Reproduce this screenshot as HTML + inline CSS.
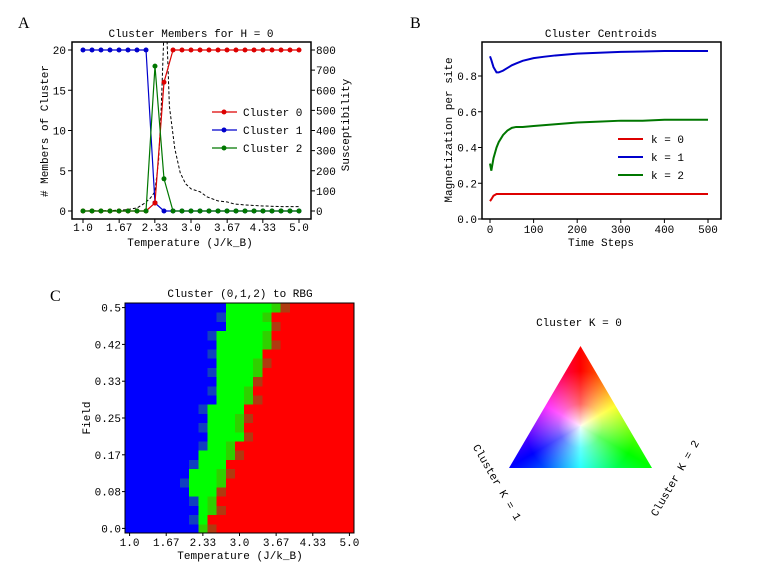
<!DOCTYPE html>
<html><head><meta charset="utf-8">
<style>
html,body{margin:0;padding:0;background:#fff;}
svg text{font-family:"Liberation Mono","DejaVu Sans Mono",monospace;font-size:11px;fill:#000;}
svg text.letter{font-family:"Liberation Serif",serif;font-size:16px;}
.tri{position:absolute;left:509px;top:346px;width:143px;height:122px;clip-path:polygon(50% 0,100% 100%,0 100%);}
</style></head>
<body>
<div style="position:relative;width:758px;height:569px;overflow:hidden">
<svg id="s" width="758" height="569" style="position:absolute;left:0;top:0"></svg>
<div class="tri" style="background:conic-gradient(from 0deg at 50% 65.6%, #ff0000 0deg, #ffff00 60deg, #00ff00 120deg, #00ffff 180deg, #0000ff 240deg, #ff00ff 300deg, #ff0000 360deg);"></div>
<div class="tri" style="background:radial-gradient(circle at 50% 65.6%, rgba(255,255,255,0.95) 0px, rgba(255,255,255,0.4) 22px, rgba(255,255,255,0) 55px);"></div>
</div>
<script>
// Panel A data
const tempA=[1,1.167,1.333,1.5,1.667,1.833,2,2.167,2.333,2.5,2.667,2.833,3,3.167,3.333,3.5,3.667,3.833,4,4.167,4.333,4.5,4.667,4.833,5];
const cluster0=[0,0,0,0,0,0,0,0,1,16,20,20,20,20,20,20,20,20,20,20,20,20,20,20,20];
const cluster1=[20,20,20,20,20,20,20,20,1,0,0,0,0,0,0,0,0,0,0,0,0,0,0,0,0];
const cluster2=[0,0,0,0,0,0,0,0,18,4,0,0,0,0,0,0,0,0,0,0,0,0,0,0,0];
const chiT=[1,1.5,1.8,2.0,2.15,2.25,2.33,2.4,2.45,2.5,2.55,2.6,2.7,2.8,2.9,3.0,3.17,3.3,3.5,3.67,3.8,4.0,4.33,4.67,5];
const chi=[0,2,6,15,40,65,95,250,520,900,900,520,310,190,135,110,95,70,50,45,35,30,25,22,22];
const xTicksA=[1.0,1.67,2.33,3.0,3.67,4.33,5.0];
const xTickLabA=["1.0","1.67","2.33","3.0","3.67","4.33","5.0"];
const yTicksA=[0,5,10,15,20];
const yTicksChi=[0,100,200,300,400,500,600,700,800];
// Panel B data
const stepsB=[0,3,8,15,20,30,40,50,60,75,100,125,150,200,250,300,350,400,450,500];
const k0=[0.10,0.11,0.13,0.14,0.14,0.14,0.14,0.14,0.14,0.14,0.14,0.14,0.14,0.14,0.14,0.14,0.14,0.14,0.14,0.14];
const k1=[0.91,0.89,0.85,0.82,0.82,0.83,0.845,0.86,0.87,0.885,0.90,0.908,0.915,0.925,0.93,0.935,0.937,0.94,0.94,0.94];
const k2=[0.31,0.27,0.34,0.40,0.43,0.47,0.495,0.51,0.515,0.515,0.52,0.525,0.53,0.54,0.545,0.55,0.55,0.555,0.555,0.555];
const xTicksB=[0,100,200,300,400,500];
const yTicksB=[0,0.2,0.4,0.6,0.8];
// Panel C data
const greenStart=[8,8,8,8,7,7,7,8,8,9,9,9,9,9,10,10,10,10,10,10,10,10,11,11,11];
const redStart=[9,9,10,10,10,11,11,11,12,12,13,13,13,13,14,14,14,15,15,15,16,16,16,16,17];
const yTickLabC=["0.0","0.08","0.17","0.25","0.33","0.42","0.5"];
const xTickLabC=["1.0","1.67","2.33","3.0","3.67","4.33","5.0"];

const S=document.getElementById('s');
const NS='http://www.w3.org/2000/svg';
function mk(tag,attrs,parent){const e=document.createElementNS(NS,tag);for(const k in attrs)e.setAttribute(k,attrs[k]);(parent||S).appendChild(e);return e;}
function txt(x,y,s,anchor,extra){const e=mk('text',Object.assign({x:x,y:y,'text-anchor':anchor||'start'},extra||{}));e.textContent=s;return e;}

// ---------- Panel A ----------
const A={l:72,r:311,t:42,b:219};
const ax=t=>83+(t-1)/4*216;
const ayL=v=>211-v/20*161;
const ayR=v=>211-v/800*161;
let e;
e=txt(18,28,'A','start',{'class':'letter'});

e=txt(191,37,'Cluster Members for H = 0','middle');

const gA=mk('g',{});

const clipA=mk('clipPath',{id:'ca'});mk('rect',{x:A.l,y:A.t,width:A.r-A.l,height:A.b-A.t},clipA);
e=mk('polyline',{points:chiT.map((t,i)=>ax(t)+','+ayR(chi[i])).join(' '),fill:'none',stroke:'#000','stroke-width':1,'stroke-dasharray':'3,2','clip-path':'url(#ca)'},gA);

function seriesA(vals,col,name){
  const l=mk('polyline',{points:tempA.map((t,i)=>ax(t)+','+ayL(vals[i])).join(' '),fill:'none',stroke:col,'stroke-width':1.2},gA);
  
  tempA.forEach((t,i)=>{const c=mk('circle',{cx:ax(t),cy:ayL(vals[i]),r:2.5,fill:col},gA);
  });
}
seriesA(cluster1,'#0000cc','cluster-1');
seriesA(cluster0,'#dd0000','cluster-0');
seriesA(cluster2,'#007700','cluster-2');
e=mk('rect',{x:A.l,y:A.t,width:A.r-A.l,height:A.b-A.t,fill:'none',stroke:'#000','stroke-width':1.5});

xTicksA.forEach((t,i)=>{mk('line',{x1:ax(t),x2:ax(t),y1:A.b,y2:A.b+4,stroke:'#000'});
  const q=txt(ax(t),231,xTickLabA[i],'middle');});
yTicksA.forEach(v=>{mk('line',{x1:A.l-4,x2:A.l,y1:ayL(v),y2:ayL(v),stroke:'#000'});
  const q=txt(A.l-6,ayL(v)+4,String(v),'end');});
yTicksChi.forEach(v=>{mk('line',{x1:A.r,x2:A.r+4,y1:ayR(v),y2:ayR(v),stroke:'#000'});
  const q=txt(A.r+5,ayR(v)+4,String(v),'start');});
e=txt(190,246,'Temperature (J/k_B)','middle');

e=txt(0,0,'# Members of Cluster','middle',{transform:'translate(48,131) rotate(-90)'});

e=txt(0,0,'Susceptibility','middle',{transform:'translate(349,125) rotate(-90)'});

[['Cluster 0','#dd0000',112],['Cluster 1','#0000cc',130],['Cluster 2','#007700',148]].forEach(L=>{
  const g=mk('g',{});
  mk('line',{x1:212,x2:237,y1:L[2],y2:L[2],stroke:L[1],'stroke-width':1.2},g);
  mk('circle',{cx:224,cy:L[2],r:2.5,fill:L[1]},g);
  const q=mk('text',{x:243,y:L[2]+4},g);q.textContent=L[0];});

// ---------- Panel B ----------
const B={l:482,r:721,t:42,b:219};
const bx=s=>490+s/500*218;
const by=v=>219-v/0.8*143;
e=txt(410,28,'B','start',{'class':'letter'});

e=txt(601,37,'Cluster Centroids','middle');

[[k0,'#dd0000','k-0'],[k1,'#0000cc','k-1'],[k2,'#007700','k-2']].forEach(sr=>{
  const l=mk('polyline',{points:stepsB.map((s,i)=>bx(s)+','+by(sr[0][i])).join(' '),fill:'none',stroke:sr[1],'stroke-width':2});
  });
e=mk('rect',{x:B.l,y:B.t,width:B.r-B.l,height:B.b-B.t,fill:'none',stroke:'#000','stroke-width':1.5});

xTicksB.forEach(s=>{mk('line',{x1:bx(s),x2:bx(s),y1:B.b,y2:B.b+4,stroke:'#000'});
  const q=txt(bx(s),233,String(s),'middle');});
yTicksB.forEach(v=>{mk('line',{x1:B.l-4,x2:B.l,y1:by(v),y2:by(v),stroke:'#000'});
  const q=txt(B.l-5,by(v)+4,v.toFixed(1),'end');});
e=txt(601,246,'Time Steps','middle');

e=txt(0,0,'Magnetization per site','middle',{transform:'translate(452,130) rotate(-90)'});

[['k = 0','#dd0000',139],['k = 1','#0000cc',157],['k = 2','#007700',175]].forEach(L=>{
  const g=mk('g',{});
  mk('line',{x1:618,x2:643,y1:L[2],y2:L[2],stroke:L[1],'stroke-width':2},g);
  const q=mk('text',{x:651,y:L[2]+4},g);q.textContent=L[0];});

// ---------- Panel C ----------
const N=25, cw=229/25, ch=230/25, cl=125, cb=533;
e=txt(50,301,'C','start',{'class':'letter'});

e=txt(240,297,'Cluster (0,1,2) to RBG','middle');

const gC=mk('g',{'shape-rendering':'crispEdges'});

for(let j=0;j<N;j++){for(let i=0;i<N;i++){
  let col='#0000ff';
  if(i>=redStart[j]) col='#ff0000';
  else if(i>=greenStart[j]) col='#00ff00';
  if(i===redStart[j]-1 && j%3!==1) col='#2fd000';
  if(i===redStart[j] && j%2===0) col='#b03a10';
  if(i===greenStart[j]-1 && j%2===1) col='#1040c0';
  const r=mk('rect',{x:cl+i*cw,y:cb-(j+1)*ch,width:cw+0.5,height:ch+0.5,fill:col},gC);
  }}
e=mk('rect',{x:cl,y:cb-N*ch,width:N*cw,height:N*ch,fill:'none',stroke:'#000','stroke-width':1});

yTickLabC.forEach((s,k)=>{const y=cb-(k*4+0.5)*ch;mk('line',{x1:cl-3,x2:cl,y1:y,y2:y,stroke:'#000'});
  const q=txt(cl-4,y+4,s,'end',{'font-size':'10'});});
xTickLabC.forEach((s,k)=>{const x=cl+(k*4+0.5)*cw;mk('line',{x1:x,x2:x,y1:cb,y2:cb+3,stroke:'#000'});
  const q=txt(x,546,s,'middle',{'font-size':'10'});});
e=txt(240,559,'Temperature (J/k_B)','middle',{'font-size':'10'});

e=txt(0,0,'Field','middle',{transform:'translate(90,418) rotate(-90)','font-size':'10'});


// ---------- Triangle labels ----------
e=txt(579,326,'Cluster K = 0','middle',{'font-size':'10'});

e=txt(0,0,'Cluster K = 1','middle',{transform:'translate(494,484) rotate(60)','font-size':'10'});

e=txt(0,0,'Cluster K = 2','middle',{transform:'translate(678,480) rotate(-60)','font-size':'10'});

</script>
</body></html>
